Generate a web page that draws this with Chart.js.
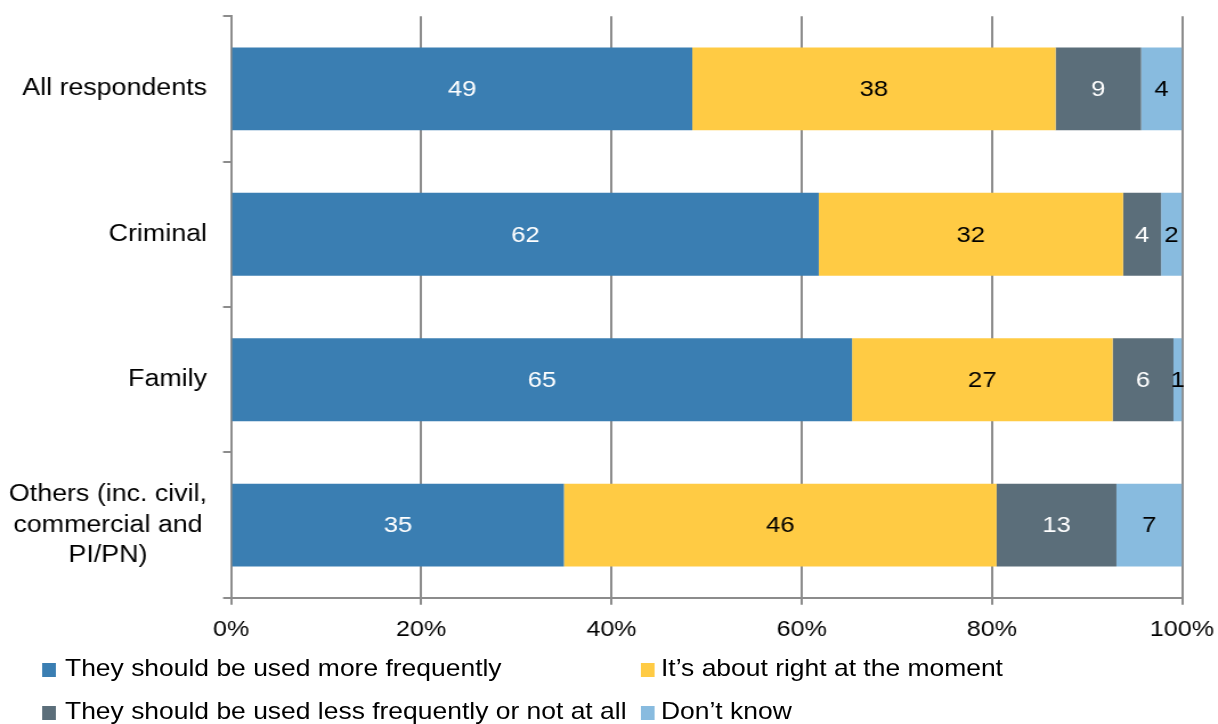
<!DOCTYPE html>
<html><head><meta charset="utf-8">
<script src="https://cdn.jsdelivr.net/npm/chart.js@4.4.1/dist/chart.umd.min.js"></script>
<style>
html,body{margin:0;padding:0;background:#fff;overflow:hidden;width:1218px;height:724px;}
#wrap{position:absolute;left:0;top:0;width:1068px;height:724px;transform:scaleX(1.1404);transform-origin:0 0;}
#c{position:absolute;left:0;top:0;}
.leg{position:absolute;font-family:"Liberation Sans",Arial,sans-serif;font-size:23.2px;line-height:23px;color:#000;white-space:nowrap;}
.sw{position:absolute;width:11.7px;height:14px;}
</style></head><body>
<div id="wrap"><canvas id="c" width="1068" height="724"></canvas><div id="legend"></div></div>
<script>
// ---- data ----
const categories = [["All respondents"], ["Criminal"], ["Family"], ["Others (inc. civil,", "commercial and", "PI/PN)"]];
const seriesNames = ["They should be used more frequently", "It\u2019s about right at the moment", "They should be used less frequently or not at all", "Don\u2019t know"];
const moreFrequently = [48.5, 61.8, 65.3, 35.0];
const aboutRight = [38.2, 32.0, 27.4, 45.5];
const lessFrequently = [9.0, 4.0, 6.4, 12.6];
const dontKnow = [4.3, 2.2, 0.9, 6.9];
const xTickValues = [0, 20, 40, 60, 80, 100];

// ---- styles ----
const seriesColors = ['#3A7EB2', '#FFCB44', '#5B6E7A', '#88BBDF'];
const labelColors = ['#ffffff', '#000000', '#ffffff', '#000000'];
const FONT = '"Liberation Sans", Arial, sans-serif';
const GRID = '#8c8c8c';

const seriesValues = [moreFrequently, aboutRight, lessFrequently, dontKnow];

const categoryLabelPlugin = {
  id: 'categoryLabels',
  afterDraw(chart) {
    const ctx = chart.ctx, ys = chart.scales.y;
    ctx.save();
    ctx.font = '23.5px ' + FONT;
    ctx.fillStyle = '#000';
    ctx.textAlign = 'center';
    ctx.textBaseline = 'middle';
    const right = 181.5, lh = 30.7;
    categories.forEach((lines, i) => {
      const yc = ys.getPixelForValue(i);
      const widest = Math.max(...lines.map(l => ctx.measureText(l).width));
      const cx = right - widest / 2;
      lines.forEach((l, j) => {
        ctx.fillText(l, cx, yc + (j - (lines.length - 1) / 2) * lh);
      });
    });
    ctx.restore();
  }
};

const valueLabelPlugin = {
  id: 'valueLabels',
  afterDatasetsDraw(chart) {
    const ctx = chart.ctx;
    ctx.save();
    ctx.font = '22.5px ' + FONT;
    ctx.textAlign = 'center';
    ctx.textBaseline = 'middle';
    chart.data.datasets.forEach((ds, di) => {
      const meta = chart.getDatasetMeta(di);
      ctx.fillStyle = labelColors[di];
      meta.data.forEach((bar, i) => {
        const p = bar.getProps(['x', 'y', 'base'], true);
        ctx.fillText(String(Math.round(ds.data[i])), (p.x + p.base) / 2, p.y + 1);
      });
    });
    ctx.restore();
  }
};

new Chart(document.getElementById('c'), {
  type: 'bar',
  data: {
    labels: categories.map(l => l.join(' ')),
    datasets: seriesNames.map((n, i) => ({
      label: n,
      data: seriesValues[i],
      backgroundColor: seriesColors[i],
      borderWidth: 0,
      barPercentage: 0.57,
      categoryPercentage: 1.0
    }))
  },
  options: {
    indexAxis: 'y',
    responsive: false,
    animation: false,
    devicePixelRatio: 1,
    layout: { padding: { left: 0, right: 31.5, top: 16.2, bottom: 0 } },
    plugins: { legend: { display: false }, tooltip: { enabled: false } },
    scales: {
      x: {
        type: 'linear', stacked: true, min: 0, max: 100,
        afterFit(s) { s.height = 126.2; s.paddingLeft = 0; s.paddingRight = 0; },
        afterBuildTicks(s) { s.ticks = xTickValues.map(v => ({ value: v })); },
        ticks: { callback: v => v + '%', color: '#000', font: { family: FONT, size: 22 }, padding: 12, maxRotation: 0 },
        grid: { color: GRID, lineWidth: 2, tickLength: 7, drawTicks: true },
        border: { display: true, color: GRID, width: 2 }
      },
      y: {
        type: 'category', stacked: true, offset: true,
        afterFit(s) { s.width = 202.6; },
        ticks: { display: false },
        grid: { display: true, drawOnChartArea: false, drawTicks: true, tickLength: 7, color: GRID, lineWidth: 2, offset: true },
        border: { display: true, color: GRID, width: 2 }
      }
    }
  },
  plugins: [categoryLabelPlugin, valueLabelPlugin]
});

// ---- legend (2-column grid) ----
const legendPos = [
  { sx: 37.4, tx: 57, row: 0 },
  { sx: 562, tx: 579.6, row: 0 },
  { sx: 37.4, tx: 57, row: 1 },
  { sx: 562, tx: 579.6, row: 1 }
];
const rowTextTop = [657.3, 700.3], rowSwTop = [663, 706];
const legend = document.getElementById('legend');
seriesNames.forEach((n, i) => {
  const p = legendPos[i];
  const sw = document.createElement('div');
  sw.className = 'sw';
  sw.style.left = p.sx + 'px';
  sw.style.top = rowSwTop[p.row] + 'px';
  sw.style.background = seriesColors[i];
  legend.appendChild(sw);
  const t = document.createElement('div');
  t.className = 'leg';
  t.style.left = p.tx + 'px';
  t.style.top = rowTextTop[p.row] + 'px';
  t.textContent = n;
  legend.appendChild(t);
});
</script>
</body></html>
